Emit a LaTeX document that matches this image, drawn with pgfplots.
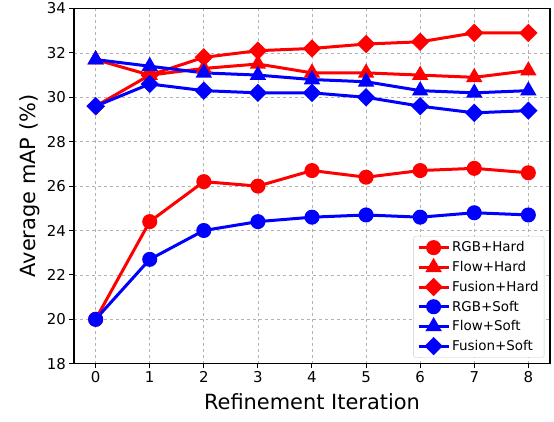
\documentclass[border=0pt]{standalone}
\usepackage{fontspec}
\setmainfont{DejaVu Sans}
\usepackage{pgfplots}
\pgfplotsset{compat=1.18}
\begin{document}
\begin{tikzpicture}
\begin{axis}[
  scale only axis, width=476bp, height=355.2bp,
  xmin=-0.4, xmax=8.4, ymin=18, ymax=34,
  xtick={0,1,2,3,4,5,6,7,8}, ytick={18,20,22,24,26,28,30,32,34},
  xtick pos=bottom, ytick pos=left,
  grid=major, grid style={dashed, black!30, line width=0.7bp},
  axis line style={line width=1.4bp},
  tick style={black, line width=1bp},
  tick align=outside, major tick length=4.5bp,
  tick label style={font=\fontsize{15}{18}\selectfont},
  label style={font=\fontsize{21}{25}\selectfont},
  xlabel={Refinement Iteration}, ylabel={Average mAP (\%)},
  xlabel style={yshift=-4bp},
  /pgf/number format/assume math mode=true,
  every axis plot/.append style={line width=3bp},
  legend style={at={(0.988,0.017)}, anchor=south east, font=\fontsize{13.5}{16}\selectfont,
    draw=black!20, rounded corners=2bp, row sep=4bp, inner sep=3.5bp},
  legend cell align=left,
  legend image code/.code={\draw[mark repeat=2,mark phase=2] plot coordinates {(0bp,0bp) (15bp,0bp) (30bp,0bp)};},
]
\addplot[red, mark=*, mark size=6bp] coordinates {(0,20) (1,24.4) (2,26.2) (3,26.0) (4,26.7) (5,26.4) (6,26.7) (7,26.8) (8,26.6)};
\addlegendentry{RGB+Hard}
\addplot[red, mark=triangle*, mark size=6.5bp] coordinates {(0,31.7) (1,31.0) (2,31.3) (3,31.5) (4,31.1) (5,31.1) (6,31.0) (7,30.9) (8,31.2)};
\addlegendentry{Flow+Hard}
\addplot[red, mark=square*, mark size=5bp, mark options={rotate=45}] coordinates {(0,29.6) (1,31.0) (2,31.8) (3,32.1) (4,32.2) (5,32.4) (6,32.5) (7,32.9) (8,32.9)};
\addlegendentry{Fusion+Hard}
\addplot[blue, mark=*, mark size=6bp] coordinates {(0,20) (1,22.7) (2,24.0) (3,24.4) (4,24.6) (5,24.7) (6,24.6) (7,24.8) (8,24.7)};
\addlegendentry{RGB+Soft}
\addplot[blue, mark=triangle*, mark size=6.5bp] coordinates {(0,31.7) (1,31.4) (2,31.1) (3,31.0) (4,30.8) (5,30.7) (6,30.3) (7,30.2) (8,30.3)};
\addlegendentry{Flow+Soft}
\addplot[blue, mark=square*, mark size=5bp, mark options={rotate=45}] coordinates {(0,29.6) (1,30.6) (2,30.3) (3,30.2) (4,30.2) (5,30.0) (6,29.6) (7,29.3) (8,29.4)};
\addlegendentry{Fusion+Soft}
\end{axis}
\pgfresetboundingbox
\path[use as bounding box] (-74bp,-58.3bp) rectangle (480bp,363.7bp);
\end{tikzpicture}
\end{document}
